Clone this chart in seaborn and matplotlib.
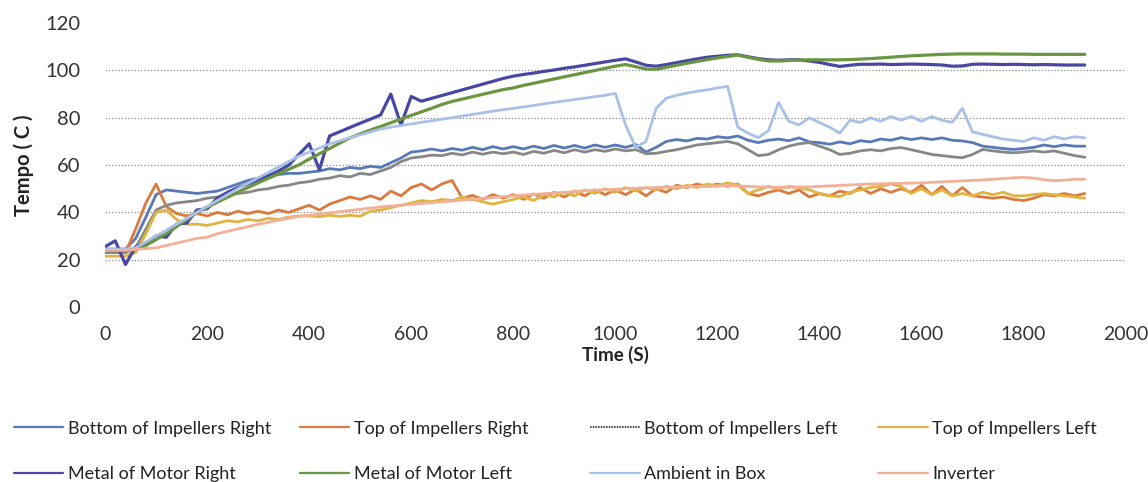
import numpy as np
import pandas as pd
import matplotlib
matplotlib.use("Agg")
import matplotlib.pyplot as plt
from matplotlib.lines import Line2D
import seaborn as sns

time_s = np.arange(0, 1921, 20)

bottom_imp_right = [
    24.5, 24.5, 24.5, 29, 38, 47.5, 49.5, 49, 48.5, 48,
    48.5, 49, 50.5, 52, 53.5, 54.5, 55.5, 56, 56.5, 56.5,
    57, 57.5, 58.5, 58, 59, 58.5, 59.5, 59, 61, 63,
    65.5, 66, 66.8, 66, 67, 66.3, 67.5, 66.5, 67.8, 66.8,
    67.8, 66.8, 68, 67, 68.3, 67.2, 68.3, 67.2, 68.5, 67.5,
    68.5, 67.5, 68.7, 65.5, 67.5, 70, 70.8, 70.2, 71.3, 71,
    72, 71.5, 72.3, 70.5, 69.5, 70.5, 71, 70.3, 71.5, 69.8,
    69.5, 68.8, 69.8, 69, 70.3, 69.8, 71, 70.5, 71.6, 70.8,
    71.5, 70.8, 71.5, 70.5, 70.2, 69.5, 68, 67.5, 67, 66.6,
    67, 67.5, 68.5, 67.8, 68.5, 68, 68]

top_imp_right = [
    23, 23, 23, 33, 44, 52, 42.5, 39.5, 38.5, 39.5,
    38.5, 40, 39, 40.5, 39.5, 40.5, 39.5, 41, 40, 41.5,
    43, 41, 43.5, 45, 46.5, 45.5, 47, 45.5, 49, 47,
    50.5, 52, 49.5, 52, 53.5, 46, 47.2, 45.5, 47.5, 46,
    47.5, 45.5, 47.8, 46, 48.5, 46.5, 49, 47, 49.5, 47.5,
    49.5, 47.5, 49.8, 47, 50, 48.5, 51.5, 50.5, 52, 51,
    52, 51, 52, 48, 47, 48.5, 49.5, 48, 49.5, 46.5,
    48, 47, 49, 48, 50.5, 48, 50, 48.5, 50, 48.5,
    51.5, 47.5, 51, 47, 50.5, 47, 46.5, 46, 46.5, 45.5,
    45, 46, 47.5, 47, 48, 47, 48]

bottom_imp_left = [
    23, 23, 23, 25, 33, 41, 43, 44, 44.5, 45,
    46, 46.5, 47.5, 48, 48.5, 49.5, 50, 51, 51.5, 52.5,
    53, 54, 54.5, 55.5, 55, 56.5, 56, 57.5, 59, 61.5,
    63, 63.5, 64.2, 64, 65, 64.3, 65.5, 64.6, 65.5, 64.8,
    65.5, 64.5, 65.8, 65, 66.2, 65.2, 66.5, 65.5, 66.5, 65.8,
    66.8, 66, 66.5, 64.8, 65, 65.8, 66.5, 67.5, 68.5, 69,
    69.5, 70, 69, 66.5, 64, 64.5, 66.5, 68, 69, 69.5,
    68, 66.5, 64.5, 65, 66, 66.5, 66, 67, 67.4, 66.5,
    65.5, 64.5, 64, 63.5, 63.1, 64.5, 66.6, 66, 65.5, 65.2,
    65.5, 66, 65.5, 66, 65, 64, 63.3]

top_imp_left = [
    21.5, 21.5, 21.5, 23, 31, 40, 41, 37, 35, 35,
    34.5, 35.5, 36.5, 36, 37, 36.5, 37.5, 37, 38, 38.5,
    38.5, 38.2, 38.8, 38.3, 38.8, 38.4, 40.5, 41, 42, 43,
    44, 45, 44.5, 45.5, 45, 46.5, 45.5, 44.5, 43.5, 44.5,
    45.5, 46.5, 45, 47.5, 46.5, 48.5, 47, 49.5, 48, 50,
    48.5, 50.5, 49, 50.5, 49.5, 51, 50, 51.5, 50.5, 52,
    51, 52.5, 51.5, 48, 49.5, 51, 50, 51, 50.5, 49.5,
    48, 47, 46.7, 48.5, 49.5, 50.5, 51, 52, 51, 48,
    50, 47.5, 49.5, 47, 48, 47, 48.5, 47.5, 48.5, 47,
    47, 47.5, 48, 47.5, 47, 46.5, 46]

metal_motor_right = [
    25.5, 28, 18, 25.5, 27, 30, 29.5, 35, 35.5, 41,
    41.5, 46, 48.5, 50.5, 52, 53.5, 55.5, 57.5, 60, 64.5,
    69, 58, 72.3, 74.1, 75.9, 77.7, 79.4, 81.2, 90, 77,
    89, 87, 88.2, 89.4, 90.6, 91.8, 93, 94.2, 95.4, 96.6,
    97.6, 98.3, 98.9, 99.6, 100.2, 100.9, 101.5, 102.2, 102.9, 103.6,
    104.3, 104.9, 103.6, 102.2, 101.8, 102.5, 103.3, 104.1, 104.9, 105.6,
    106, 106.4, 106.6, 105.8, 105, 104.5, 104.3, 104.5, 104.5, 104,
    103.4, 102.5, 101.7, 102.2, 102.6, 102.6, 102.7, 102.5, 102.6, 102.7,
    102.6, 102.5, 102.3, 101.8, 101.9, 102.6, 102.7, 102.6, 102.5, 102.6,
    102.5, 102.4, 102.5, 102.4, 102.3, 102.3, 102.3]

metal_motor_left = [
    24, 24, 24, 24.3, 26, 28.5, 31, 34, 37, 40,
    42.2, 44.3, 46.4, 48.5, 50.5, 52.5, 54.4, 56.3, 58.2, 60.1,
    62.5, 64.8, 67, 69.3, 71.5, 73.2, 74.8, 76.3, 77.9, 79.4,
    81, 82.5, 84, 85.6, 86.9, 87.9, 88.9, 89.9, 90.9, 91.9,
    92.6, 93.7, 94.6, 95.5, 96.4, 97.3, 98.2, 99.1, 100, 100.9,
    101.8, 102.5, 101.6, 100.6, 100.5, 101.3, 102.2, 103, 103.8, 104.6,
    105.3, 105.9, 106.5, 105.6, 104.7, 104, 104, 104.2, 104.4, 104.5,
    104.5, 104.5, 104.5, 104.6, 104.8, 105, 105.3, 105.6, 105.9, 106.2,
    106.4, 106.6, 106.8, 106.9, 107, 107, 107, 107, 106.9, 106.9,
    106.9, 106.8, 106.8, 106.8, 106.8, 106.8, 106.8]

ambient_in_box = [
    24.5, 24.5, 24.5, 25, 27.5, 30, 32.5, 35, 37.5, 40,
    42.5, 45, 47.5, 50, 52.3, 54.6, 56.9, 59.2, 61.5, 63.8,
    65.5, 67.2, 69, 70.3, 71.5, 72.8, 74, 75.2, 76, 76.7,
    77.4, 78.1, 78.7, 79.4, 80, 80.7, 81.4, 82.1, 82.8, 83.4,
    84, 84.6, 85.2, 85.9, 86.5, 87.1, 87.7, 88.3, 88.9, 89.5,
    90.3, 77, 67.5, 70, 84, 88.3, 89.5, 90.4, 91.2, 91.8,
    92.6, 93.3, 76, 73.5, 71.6, 74.5, 86.5, 78.5, 77, 80,
    78, 76, 73.5, 79, 78, 80, 78.5, 80.5, 79, 80.5,
    78.5, 80.5, 79, 78, 84, 74, 73, 72, 71, 70.5,
    70, 71.5, 70.5, 72, 71, 72, 71.5]

inverter = [
    24, 24, 24, 24.3, 24.7, 25, 26, 27, 28, 29,
    29.5, 31, 32, 33, 34, 35, 35.8, 36.7, 37.5, 38.3,
    38.8, 39.3, 39.8, 40.3, 40.8, 41.3, 41.8, 42.3, 42.7, 43,
    43.4, 43.8, 44.1, 44.5, 44.8, 45.2, 45.5, 45.9, 46.3, 46.7,
    47, 47.3, 47.6, 47.9, 48.2, 48.5, 48.8, 49.1, 49.4, 49.6,
    49.8, 50, 50.2, 50.4, 50.5, 50.6, 50.7, 50.8, 50.9, 51,
    51.2, 51.3, 51.2, 51, 50.8, 50.7, 50.6, 50.6, 50.7, 50.8,
    51, 51.2, 51.4, 51.6, 51.8, 52, 52.1, 52.2, 52.3, 52.4,
    52.5, 52.7, 52.9, 53.1, 53.3, 53.5, 53.7, 54, 54.3, 54.6,
    54.8, 54.5, 53.8, 53.4, 53.6, 54, 54]

series_names = ["Bottom of Impellers Right", "Top of Impellers Right",
                "Bottom of Impellers Left", "Top of Impellers Left",
                "Metal of Motor Right", "Metal of Motor Left",
                "Ambient in Box", "Inverter"]
series_values = [bottom_imp_right, top_imp_right, bottom_imp_left, top_imp_left,
                 metal_motor_right, metal_motor_left, ambient_in_box, inverter]

x_ticks = [0, 200, 400, 600, 800, 1000, 1200, 1400, 1600, 1800, 2000]
y_ticks = [0, 20, 40, 60, 80, 100, 120]

# ---------------- styling ----------------
colors = {
    "Bottom of Impellers Right": "#5878B8",
    "Top of Impellers Right": "#DB7A3E",
    "Bottom of Impellers Left": "#878787",
    "Top of Impellers Left": "#E1B441",
    "Metal of Motor Right": "#4848A4",
    "Metal of Motor Left": "#6A9641",
    "Ambient in Box": "#A9C0E8",
    "Inverter": "#F2B096",
}
widths = {n: 2.0 for n in series_names}
widths["Metal of Motor Right"] = 2.3
widths["Metal of Motor Left"] = 2.3

frames = []
for name, vals in zip(series_names, series_values):
    frames.append(pd.DataFrame({"Time": time_s, "Temp": vals, "Series": name}))
df = pd.concat(frames, ignore_index=True)

sns.set_theme(style="white")
plt.rcParams["font.family"] = ["Lato", "DejaVu Sans"]

fig = plt.figure(figsize=(11.48, 4.82), dpi=100)
ax = fig.add_axes([0.0915, 0.363, 0.889, 0.589])

for name in series_names:
    sns.lineplot(data=df[df["Series"] == name], x="Time", y="Temp",
                 color=colors[name], linewidth=widths[name], ax=ax,
                 legend=False, estimator=None)

ax.set_xlim(0, 2000)
ax.set_ylim(0, 120)
ax.set_xticks(x_ticks)
ax.set_yticks(y_ticks)
ax.tick_params(axis="both", length=0, labelsize=14.5, colors="#333333")
ax.tick_params(axis="x", pad=14, labelsize=14)
ax.tick_params(axis="y", pad=18)
for s in ax.spines.values():
    s.set_visible(False)

ax.yaxis.grid(True, color="#8a8a8a", linestyle=(0, (1, 1.6)), linewidth=0.9)
ax.xaxis.grid(False)
glines = ax.get_ygridlines()
glines[0].set_visible(False)
glines[-1].set_visible(False)

ax.set_xlabel("Time (S)", fontsize=13.5, fontweight="bold", color="#222222", labelpad=2)
ax.set_ylabel("Tempo ( C )", fontsize=14.5, fontweight="bold", color="#222222", labelpad=8)

# ---------------- legend: 4 columns x 2 rows ----------------
col_x = [0.012, 0.261, 0.514, 0.765]
columns = [(0, 4), (1, 5), (2, 6), (3, 7)]
for cx, (a, b) in zip(col_x, columns):
    handles = []
    for idx in (a, b):
        nm = series_names[idx]
        if nm == "Bottom of Impellers Left":
            h = Line2D([], [], color="#333333", lw=1.2, linestyle=(0, (1, 0.6)))
        else:
            h = Line2D([], [], color=colors[nm], lw=1.6)
        handles.append(h)
    leg = fig.legend(handles, [series_names[a], series_names[b]],
                     loc="upper left", bbox_to_anchor=(cx, 0.127),
                     frameon=False, fontsize=13, handlelength=2.75,
                     handletextpad=0.25, labelspacing=1.62, borderpad=0,
                     borderaxespad=0)
    for t in leg.get_texts():
        t.set_color("#222222")

fig.savefig("out.png", dpi=100)
